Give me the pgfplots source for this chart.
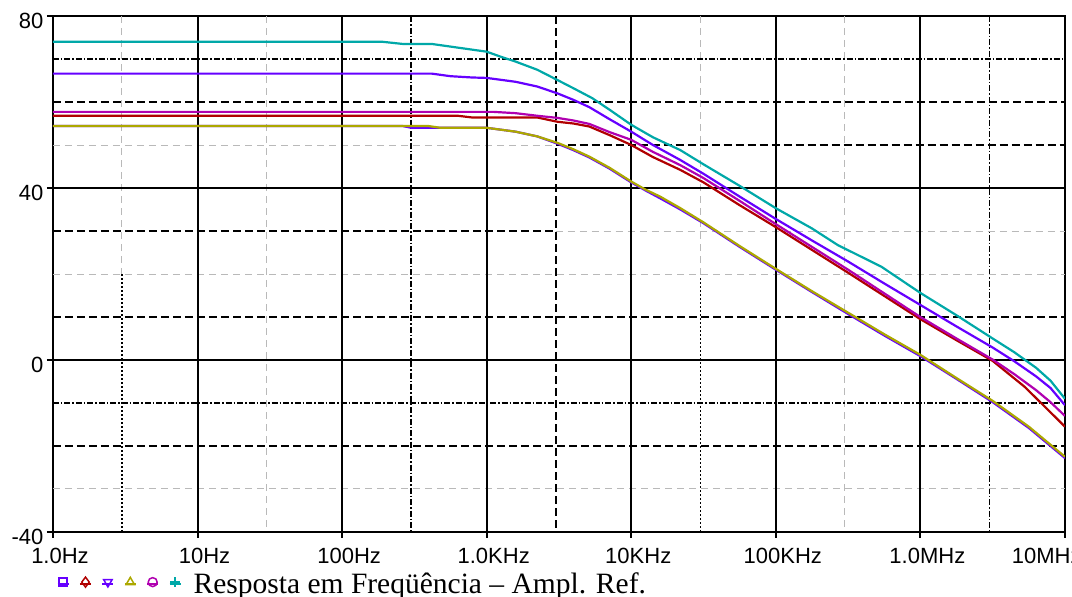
\documentclass[border=0pt]{standalone}
\usepackage{fontspec}
\setmainfont{Liberation Serif}
\newfontfamily\arial{Liberation Sans}
\usepackage{pgfplots}
\pgfplotsset{compat=1.18}
\definecolor{cblue}{RGB}{102,0,255}
\definecolor{cred}{RGB}{176,0,0}
\definecolor{cyel}{RGB}{172,168,0}
\definecolor{cmag}{RGB}{176,0,176}
\definecolor{cteal}{RGB}{0,168,168}
\tikzset{
  gg/.style={gray!55, line width=1pt, dash pattern=on 7pt off 5pt},
  bd/.style={black, line width=2pt, dash pattern=on 8pt off 4pt},
  bf/.style={black, line width=1.6pt, dash pattern=on 6pt off 2pt on 1.5pt off 2pt},
  bo/.style={black, line width=1.3pt, dash pattern=on 2pt off 2pt},
  maj/.style={black, line width=2pt},
}
\newcommand{\legmark}[2]{\path (-5.5pt,0pt) -- (5.5pt,0pt);\draw[#1, line width=1.5pt, only marks, #2] plot coordinates {(0pt,1.5pt)};}
\begin{document}
\begin{tikzpicture}[x=1pt,y=1pt]
\begin{axis}[
  at={(0pt,0pt)}, anchor=south west,
  scale only axis, width=1012pt, height=516pt,
  xmin=0, xmax=7, ymin=-40, ymax=80,
  xtick={0,1,2,3,4,5,6,7},
  xticklabels={1.0Hz,10Hz,100Hz,1.0KHz,10KHz,100KHz,1.0MHz,\makebox[0pt][l]{\hspace*{-60pt}10MHz}},
  ytick={-40,0,40,80}, yticklabels={-40,0,40,80},
  xtick pos=bottom, ytick pos=left,
  tick align=outside, major tick length=6pt,
  tick style={black, line width=2pt},
  axis line style={black, line width=2pt},
  tick label style={font=\arial\fontsize{22}{23}\selectfont},
  xticklabel style={xshift=7pt, yshift=-7pt},
  yticklabel style={yshift=-5pt},
  legend style={at={(rel axis cs:0,0)}, anchor=north west, xshift=3.5pt, yshift=-40.5pt,
    draw=none, fill=none, inner sep=0pt, outer sep=0pt,
    legend columns=-1, nodes={inner sep=0pt, outer sep=0pt},
    /tikz/every even column/.append style={column sep=8.2pt},
    font=\fontsize{29.5}{30}\selectfont},
  legend cell align=left,
]
% minor / auxiliary grid
\draw[gg] (0.4771,80) -- (0.4771,20);
\draw[bo] (0.4771,20) -- (0.4771,-40);
\draw[gg] (1.4771,80) -- (1.4771,-40);
\draw[bf] (2.4771,80) -- (2.4771,-40);
\draw[bd] (3.4771,80) -- (3.4771,-40);
\draw[gg] (4.4771,80) -- (4.4771,19);
\draw[bo] (4.4771,19) -- (4.4771,-40);
\draw[gg] (5.4771,80) -- (5.4771,-40);
\draw[bf] (6.4771,80) -- (6.4771,-40);
\draw[bf] (0,70) -- (7,70);
\draw[bd] (0,60) -- (7,60);
\draw[gg] (0,50) -- (3.4771,50);
\draw[bd] (3.4771,50) -- (7,50);
\draw[bd] (0,30) -- (3.4771,30);
\draw[gg] (3.4771,30) -- (7,30);
\draw[gg] (0,20) -- (7,20);
\draw[bd] (0,10) -- (7,10);
\draw[bf] (0,-10) -- (7,-10);
\draw[bd] (0,-20) -- (7,-20);
\draw[gg] (0,-30) -- (7,-30);
% major grid
\foreach \k in {1,...,6} {\edef\tmp{\noexpand\draw[maj] (\k,80) -- (\k,-40);}\tmp}
\draw[maj] (0,0) -- (7,0);
\draw[maj] (0,40) -- (7,40);

% series 1: blue (square)
\addplot[cblue, line width=2.2pt, no marks,
  legend image code/.code={\legmark{cblue}{mark=square, mark size=4pt}}]
table {
0 54.4
2.42 54.4
2.48 54.0
3.0 54.0
3.2 53.1
3.35 52.0
3.49 50.3
3.6 48.8
3.71 47.1
3.85 44.5
4.0 41.3
4.1 39.4
4.2 37.6
4.34 35.0
4.5 31.8
4.75 26.3
5.0 21.0
5.25 15.8
5.5 10.7
5.75 5.7
6.0 0.9
6.25 -4.4
6.5 -9.8
6.75 -15.8
7.0 -22.8
};
% series 2: red (diamond)
\addplot[cred, line width=2.2pt, no marks,
  legend image code/.code={\legmark{cred}{mark=diamond, mark size=5pt}}]
table {
0 56.8
2.8 56.8
2.9 56.4
3.35 56.4
3.49 55.4
3.6 55.0
3.71 54.3
3.85 52.3
4.0 50.0
4.15 47.2
4.34 44.2
4.5 41.3
4.75 36.0
5.0 30.9
5.25 25.6
5.5 20.3
5.75 14.9
6.0 9.5
6.25 4.6
6.5 -0.2
6.72 -6.2
6.85 -10.5
7.0 -15.5
};
% series 3: blue (triangle down)
\addplot[cblue, line width=2.2pt, no marks,
  legend image code/.code={\legmark{cblue}{mark=triangle, mark size=4.8pt, mark options={rotate=180}}}]
table {
0 66.6
2.62 66.6
2.75 66.0
2.9 65.7
3.0 65.6
3.2 64.7
3.35 63.6
3.49 62.0
3.6 60.5
3.71 58.8
3.85 56.0
4.0 53.1
4.15 50.0
4.34 46.5
4.5 43.3
4.75 38.0
5.0 32.8
5.25 27.8
5.5 22.9
5.75 17.8
6.0 12.8
6.25 7.8
6.5 2.9
6.65 -0.3
6.8 -3.8
6.9 -6.5
7.0 -10.5
};
% series 4: yellow (triangle up)
\addplot[cyel, line width=2.2pt, no marks,
  legend image code/.code={\legmark{cyel}{mark=triangle, mark size=4.8pt}}]
table {
0 54.4
2.6 54.4
2.68 54.0
3.0 54.0
3.2 53.1
3.35 52.0
3.49 50.5
3.6 49.0
3.71 47.3
3.85 44.7
4.0 41.5
4.1 39.6
4.2 38.0
4.34 35.3
4.5 32.0
4.75 26.5
5.0 21.2
5.25 16.0
5.5 11.0
5.75 6.0
6.0 1.2
6.25 -4.2
6.5 -9.5
6.75 -15.5
7.0 -22.5
};
% series 5: magenta (circle)
\addplot[cmag, line width=2.2pt, no marks,
  legend image code/.code={\legmark{cmag}{mark=o, mark size=4.5pt}}]
table {
0 57.7
3.05 57.7
3.2 57.4
3.35 56.8
3.49 56.3
3.6 55.7
3.71 54.9
3.85 53.0
4.0 51.2
4.15 48.4
4.34 45.3
4.5 42.3
4.75 37.0
5.0 31.6
5.25 26.3
5.5 21.0
5.75 15.5
6.0 10.0
6.25 5.0
6.5 0.1
6.65 -3.3
6.8 -7.0
6.9 -9.8
7.0 -13.0
};
% series 6: teal (plus)
\addplot[cteal, line width=2.2pt, no marks,
  legend image code/.code={\legmark{cteal}{mark=+, mark size=5pt}}]
table {
0 74.0
2.28 74.0
2.42 73.5
2.62 73.5
3.0 71.7
3.1 70.5
3.2 69.4
3.35 67.5
3.49 65.1
3.6 63.2
3.73 60.9
3.85 58.2
4.0 54.7
4.15 51.8
4.34 48.8
4.5 45.5
4.75 40.5
5.0 35.3
5.25 30.6
5.43 26.7
5.73 21.7
6.0 15.6
6.25 10.4
6.5 5.0
6.65 1.8
6.8 -1.8
6.9 -4.8
7.0 -9.0
};
\legend{\mbox{},\mbox{},\mbox{},\mbox{},\mbox{},\hspace*{12pt}Resposta em Freqüência – Ampl. Ref.}
\end{axis}
\pgfresetboundingbox
\path[use as bounding box] (-53pt,-65pt) rectangle (1019pt,532pt);
\end{tikzpicture}
\end{document}
